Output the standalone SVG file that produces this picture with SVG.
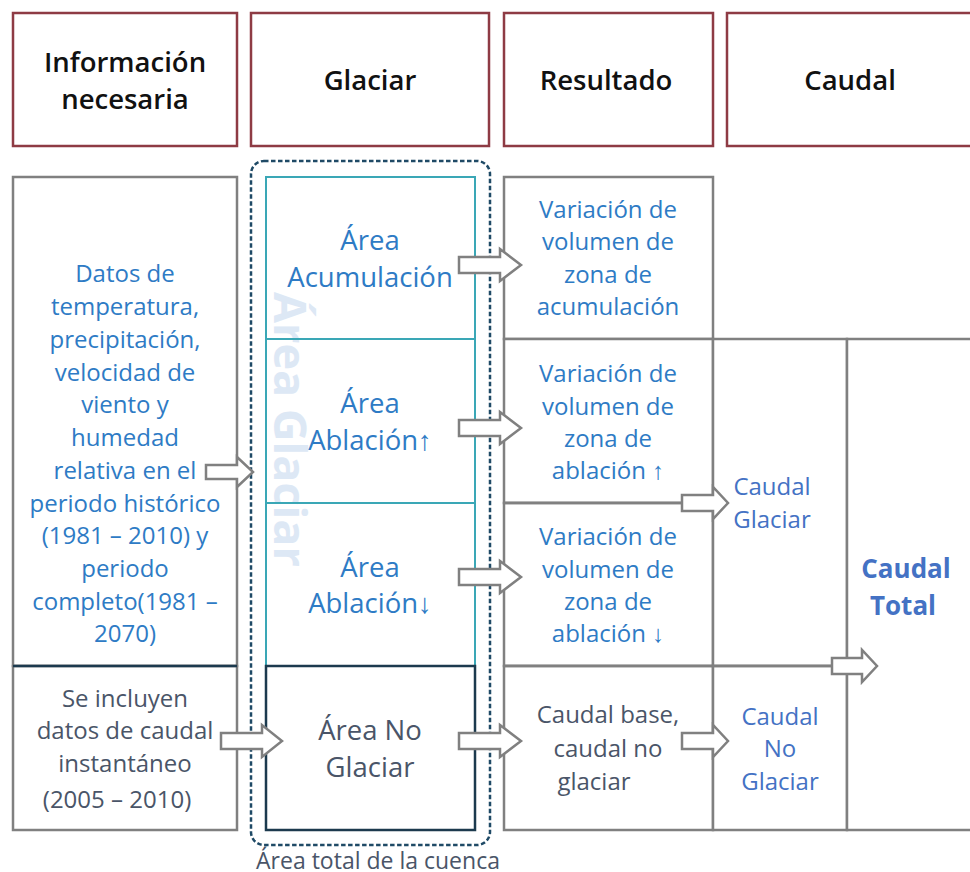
<svg xmlns="http://www.w3.org/2000/svg" width="970" height="872" viewBox="0 0 970 872">
<style>
text{font-family:"Open Sans","Noto Sans","Liberation Sans",sans-serif;text-anchor:middle}
.hdr{fill:#fff;stroke:#8E3B44;stroke-width:2.5}
.ht{font-size:27.5px;font-weight:600;fill:#111}
.box{fill:#fff;stroke:#808080;stroke-width:2.5}
.ln{fill:none;stroke:#808080;stroke-width:2.5}
.teal{fill:none;stroke:#3AA7B6;stroke-width:2}
.navy{fill:none;stroke:#1C3A4E;stroke-width:2.5}
.blue{font-size:24px;fill:#2E7BC5}
.gb{font-size:27.5px;fill:#2E7BC5}
.dk{font-size:24px;fill:#4A5568}
.cb{font-size:24px;fill:#4472C4}
.arr{fill:#fff;stroke:#808080;stroke-width:2.5;stroke-linejoin:miter}
</style>
<rect width="970" height="872" fill="#fff"/>
<g id="header-info"><rect class="hdr" x="13" y="13" width="224" height="133"/><text class="ht" x="125" y="72">Información</text><text class="ht" x="125" y="109">necesaria</text></g>
<g id="header-glaciar"><rect class="hdr" x="251" y="13" width="238" height="133"/><text class="ht" x="370" y="90">Glaciar</text></g>
<g id="header-resultado"><rect class="hdr" x="504" y="13" width="209" height="133"/><text class="ht" x="606" y="90">Resultado</text></g>
<g id="header-caudal"><rect class="hdr" x="727" y="13" width="260" height="133"/><text class="ht" x="850" y="90">Caudal</text></g>

<g id="info-clima"><rect class="box" x="13" y="177" width="224" height="489"/>
<text class="blue"><tspan x="125" y="282">Datos de</tspan><tspan x="125" y="315">temperatura,</tspan><tspan x="125" y="348">precipitación,</tspan><tspan x="125" y="381">velocidad de</tspan><tspan x="125" y="413">viento y</tspan><tspan x="125" y="446">humedad</tspan><tspan x="125" y="479">relativa en el</tspan><tspan x="125" y="512">periodo histórico</tspan><tspan x="125" y="544">(1981 – 2010) y</tspan><tspan x="125" y="577">periodo</tspan><tspan x="125" y="610">completo(1981 –</tspan><tspan x="125" y="642">2070)</tspan></text></g>
<g id="info-caudal"><rect class="box" x="13" y="666" width="224" height="164"/><line x1="13" y1="666" x2="237" y2="666" stroke="#1C3A4E" stroke-width="2.5"/>
<text class="dk"><tspan x="125" y="707">Se incluyen</tspan><tspan x="125" y="739">datos de caudal</tspan><tspan x="125" y="772">instantáneo</tspan><tspan x="117" y="808">(2005 – 2010)</tspan></text></g>

<g id="watermark"><text x="0" y="0" transform="translate(274,292) rotate(90)" style="text-anchor:start;font-size:45px;font-weight:bold;fill:#DDE8F5">Área Glaciar</text></g>

<g id="glaciar-acumulacion"><rect class="teal" x="266" y="177" width="209" height="162"/><text class="gb"><tspan x="370" y="250">Área</tspan><tspan x="370" y="287">Acumulación</tspan></text></g>
<g id="glaciar-ablacion-up"><rect class="teal" x="266" y="339" width="209" height="164"/><text class="gb"><tspan x="370" y="413">Área</tspan><tspan x="370" y="450">Ablación↑</tspan></text></g>
<g id="glaciar-ablacion-down"><rect class="teal" x="266" y="503" width="209" height="163"/><text class="gb"><tspan x="370" y="577">Área</tspan><tspan x="370" y="613">Ablación↓</tspan></text></g>
<g id="no-glaciar"><rect class="navy" x="266" y="666" width="209" height="164"/><text class="gb" style="fill:#4A5568"><tspan x="370" y="740">Área No</tspan><tspan x="370" y="777">Glaciar</tspan></text></g>

<g id="res-acumulacion"><rect class="box" x="504" y="177" width="209" height="162"/><text class="blue"><tspan x="608" y="218">Variación de</tspan><tspan x="608" y="250">volumen de</tspan><tspan x="608" y="283">zona de</tspan><tspan x="608" y="315">acumulación</tspan></text></g>
<g id="res-ablacion-up"><rect class="box" x="504" y="339" width="209" height="164"/><text class="blue"><tspan x="608" y="382">Variación de</tspan><tspan x="608" y="415">volumen de</tspan><tspan x="608" y="447">zona de</tspan><tspan x="608" y="479">ablación ↑</tspan></text></g>
<g id="res-ablacion-down"><rect class="box" x="504" y="503" width="209" height="163"/><text class="blue"><tspan x="608" y="545">Variación de</tspan><tspan x="608" y="578">volumen de</tspan><tspan x="608" y="610">zona de</tspan><tspan x="608" y="642">ablación ↓</tspan></text></g>
<g id="res-no-glaciar"><rect class="box" x="504" y="666" width="209" height="164"/><text class="dk"><tspan x="608" y="723">Caudal base,</tspan><tspan x="608" y="757">caudal no</tspan><tspan x="594" y="790">glaciar</tspan></text></g>

<g id="caudal-glaciar"><rect class="box" x="713" y="339" width="134" height="327"/><text class="cb"><tspan x="772" y="495">Caudal</tspan><tspan x="772" y="528">Glaciar</tspan></text></g>
<g id="caudal-no-glaciar"><rect class="box" x="713" y="666" width="134" height="164"/><text class="cb"><tspan x="780" y="725">Caudal</tspan><tspan x="780" y="757">No</tspan><tspan x="780" y="790">Glaciar</tspan></text></g>
<g id="caudal-total"><rect class="box" x="847" y="339" width="140" height="491"/><text style="font-size:26px;font-weight:bold;fill:#4472C4"><tspan x="906" y="578">Caudal</tspan><tspan x="903" y="615">Total</tspan></text></g>

<g id="cuenca"><rect x="251" y="161" width="239" height="684" rx="13" fill="none" stroke="#1F4A66" stroke-width="2.5" stroke-dasharray="4.5 2.5"/><text x="378" y="869" style="font-size:23px;fill:#4A5568">Área total de la cuenca</text></g>

<g id="connectors">
<path class="arr" d="M459,257H500V249L521,265L500,281V273H459Z"/>
<path class="arr" d="M459,420H500V412L521,428L500,444V436H459Z"/>
<path class="arr" d="M459,569H500V561L521,577L500,593V585H459Z"/>
<path class="arr" d="M459,733H500V725L521,741L500,757V749H459Z"/>
<path class="arr" d="M206,465H237V457L253,472L237,487V479H206Z"/>
<path class="arr" d="M221,733H262V725L282,741L262,757V749H221Z"/>
<line class="ln" x1="504" y1="503" x2="683" y2="503"/>
<path class="arr" d="M682,495H713V487L728,503L713,519V511H682Z"/>
<path class="arr" d="M682,733H713V725L728,741L713,757V749H682Z"/>
<line class="ln" x1="504" y1="666" x2="833" y2="666"/>
<path class="arr" d="M832,658H862V650L877,666L862,682V674H832Z"/>
</g>
</svg>
